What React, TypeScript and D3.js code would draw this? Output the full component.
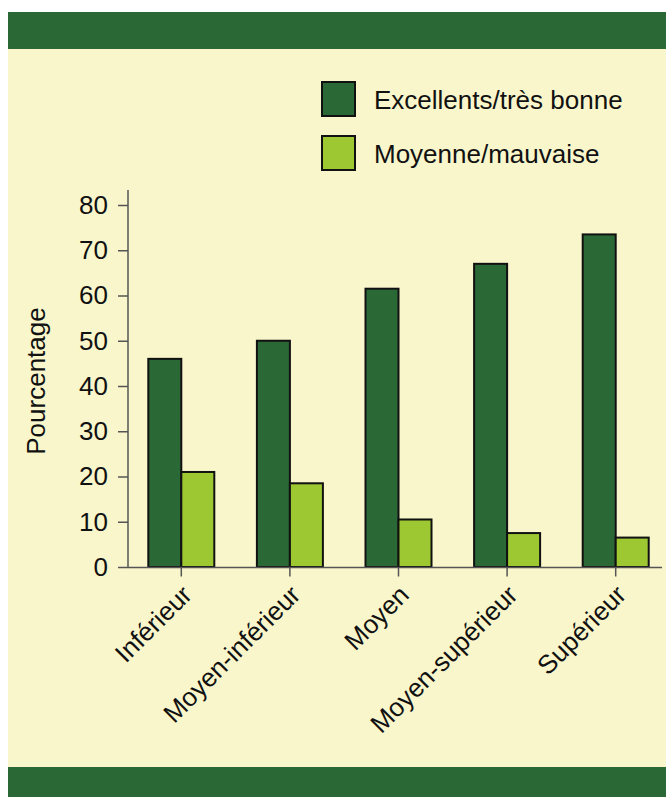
import React, { useEffect, useRef } from 'react';
import * as d3 from 'd3';

const width = 666;
const height = 798;

const categories = ['Inférieur', 'Moyen-inférieur', 'Moyen', 'Moyen-supérieur', 'Supérieur'];
const seriesNames = ['Excellents/très bonne', 'Moyenne/mauvaise'];
const excellent = [46, 50, 61.5, 67, 73.5];
const moyenne = [21, 18.5, 10.5, 7.5, 6.5];
const yTicks = [0, 10, 20, 30, 40, 50, 60, 70, 80];

const colors = ['#2a6836', '#9dc832'];
const bg = '#f9f6cc';
const ink = '#111';
const axisColor = '#555';
const font = '"Liberation Sans", Arial, sans-serif';
const fontSize = '26px';

function App() {
  const ref = useRef<SVGSVGElement>(null);

  useEffect(() => {
    const svg = d3.select(ref.current);
    svg.selectAll('*').remove();

    // panel with the two green bands
    svg.append('rect').attr('x', 8).attr('y', 12).attr('width', width - 8).attr('height', 785).attr('fill', bg);
    svg.append('rect').attr('x', 8).attr('y', 12).attr('width', width - 8).attr('height', 37).attr('fill', colors[0]);
    svg.append('rect').attr('x', 8).attr('y', 767).attr('width', width - 8).attr('height', 30).attr('fill', colors[0]);

    const x = d3.scaleBand().domain(categories).range([127, 670]);
    const x1 = d3.scaleBand().domain(seriesNames).range([0, 66]);
    const y = d3.scaleLinear().domain([0, 80]).range([567, 205]);

    const rows = categories.map((c, i) => ({ c, vals: [excellent[i], moyenne[i]] }));

    // bars
    const groups = svg
      .selectAll('g.grp')
      .data(rows)
      .enter()
      .append('g')
      .attr('class', 'grp')
      .attr('transform', (d) => `translate(${x(d.c)! + x.bandwidth() / 2 - 33}, 0)`);

    groups
      .selectAll('rect')
      .data((d) => d.vals.map((v, j) => ({ v, s: seriesNames[j], j })))
      .enter()
      .append('rect')
      .attr('x', (d) => x1(d.s)!)
      .attr('width', x1.bandwidth())
      .attr('y', (d) => y(d.v))
      .attr('height', (d) => y(0) - y(d.v))
      .attr('fill', (d) => colors[d.j])
      .attr('stroke', ink)
      .attr('stroke-width', 2);

    // y axis
    const yAxis = svg
      .append('g')
      .attr('transform', 'translate(128, 0)')
      .call(d3.axisLeft(y).tickValues(yTicks).tickSize(10).tickPadding(10));
    yAxis.select('.domain').remove();
    yAxis.selectAll('line').attr('stroke', axisColor).attr('stroke-width', 1.5);
    yAxis.selectAll('text').attr('fill', ink).style('font-family', font).style('font-size', fontSize);
    svg.append('line').attr('x1', 128).attr('x2', 128).attr('y1', 190).attr('y2', 568).attr('stroke', axisColor).attr('stroke-width', 1.5);

    // x axis
    const xAxis = svg
      .append('g')
      .attr('transform', 'translate(0, 567.5)')
      .call(d3.axisBottom(x).tickSize(9).tickPadding(0));
    xAxis.select('.domain').remove();
    xAxis.selectAll('line').attr('stroke', axisColor).attr('stroke-width', 1.5);
    xAxis
      .selectAll('text')
      .attr('y', 0)
      .attr('dy', 0)
      .attr('text-anchor', 'end')
      .attr('transform', 'translate(12, 29) rotate(-45)')
      .attr('fill', ink)
      .style('font-family', font)
      .style('font-size', fontSize);
    svg.append('line').attr('x1', 128).attr('x2', 662).attr('y1', 567.5).attr('y2', 567.5).attr('stroke', axisColor).attr('stroke-width', 1.5);

    // y title
    svg
      .append('text')
      .attr('transform', 'translate(45, 381) rotate(-90)')
      .attr('text-anchor', 'middle')
      .attr('fill', ink)
      .style('font-family', font)
      .style('font-size', fontSize)
      .text('Pourcentage');

    // legend
    const legend = svg
      .selectAll('g.leg')
      .data(seriesNames)
      .enter()
      .append('g')
      .attr('class', 'leg')
      .attr('transform', (d, i) => `translate(322, ${82 + i * 54})`);
    legend
      .append('rect')
      .attr('width', 33)
      .attr('height', 34)
      .attr('fill', (d, i) => colors[i])
      .attr('stroke', ink)
      .attr('stroke-width', 2);
    legend
      .append('text')
      .attr('x', 52)
      .attr('y', 27)
      .attr('fill', ink)
      .style('font-family', font)
      .style('font-size', fontSize)
      .text((d) => d);
  }, []);

  return (
    <svg
      ref={ref}
      width={width}
      height={height}
      style={{ position: 'absolute', left: 0, top: 0, display: 'block' }}
    />
  );
}

export default App;
